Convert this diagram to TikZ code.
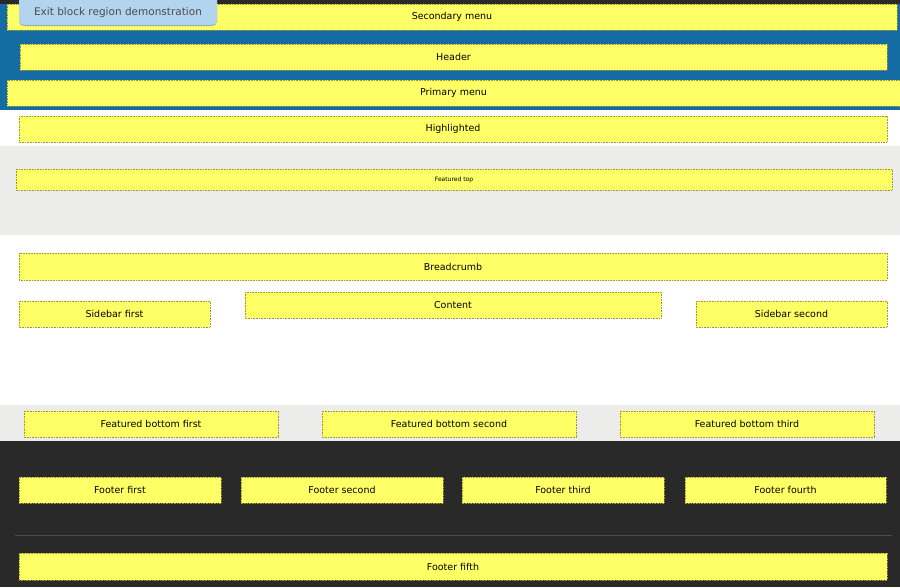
\documentclass[tikz,border=0pt]{standalone}
\usepackage{fontspec}
\setmainfont{DejaVu Sans}
\definecolor{yel}{HTML}{FFFF66}
\definecolor{yb}{HTML}{9A9A30}
\definecolor{blu}{HTML}{156BA3}
\definecolor{gry}{HTML}{ECEDEA}
\definecolor{drk}{HTML}{292929}
\definecolor{btn}{HTML}{B3D4EE}
\begin{document}
\begin{tikzpicture}[x=1pt,y=-1pt,
 reg/.style={fill=yel,draw=yb,densely dotted,line width=0.6pt},
 lbl/.style={font=\fontsize{9.5}{11}\selectfont,text=black}]
\useasboundingbox (0,0) rectangle (900,587);
\fill[white] (0,0) rectangle (900,587);
\fill[blu] (0,0) rectangle (900,110);
\fill[drk] (0,0) rectangle (900,4);
\fill[gry] (0,146) rectangle (900,235);
\fill[gry] (0,405) rectangle (900,441);
\fill[drk] (0,441) rectangle (900,587);
\draw[draw=gray!60!black,line width=1pt] (15,535) -- (892,535);
\newcommand\reg[6]{\draw[reg] (#1,#2) rectangle (#3,#4) node[lbl,midway] (#5) {#6};}
\reg{7}{4}{897}{30}{sec}{Secondary menu}
\reg{20}{44}{887}{70}{hdr}{Header}
\reg{7}{80}{900}{106}{pri}{Primary menu}
\reg{19}{116}{887}{142}{hl}{Highlighted}
\draw[reg] (16,169) rectangle (892,190) node[midway,font=\fontsize{6}{7}\selectfont] (ft) {Featured top};
\reg{19}{253}{887}{280}{bc}{Breadcrumb}
\reg{19}{301}{210}{327}{sf}{Sidebar first}
\reg{245}{292}{661}{318}{ct}{Content}
\reg{696}{301}{887}{327}{ss}{Sidebar second}
\reg{24}{411}{278}{437}{fb1}{Featured bottom first}
\reg{322}{411}{576}{437}{fb2}{Featured bottom second}
\reg{620}{411}{874}{437}{fb3}{Featured bottom third}
\reg{19}{477}{221}{503}{f1}{Footer first}
\reg{241}{477}{443}{503}{f2}{Footer second}
\reg{462}{477}{664}{503}{f3}{Footer third}
\reg{685}{477}{886}{503}{f4}{Footer fourth}
\reg{19}{553}{887}{580}{f5}{Footer fifth}
\fill[btn!80!black,rounded corners=5pt] (19,-6) rectangle (217,26);
\fill[btn,rounded corners=5pt] (19,-6) rectangle (217,25);
\node[font=\fontsize{10.5}{12}\selectfont,text=black!70] (exit) at (118,12.5) {Exit block region demonstration};
\end{tikzpicture}
\end{document}
